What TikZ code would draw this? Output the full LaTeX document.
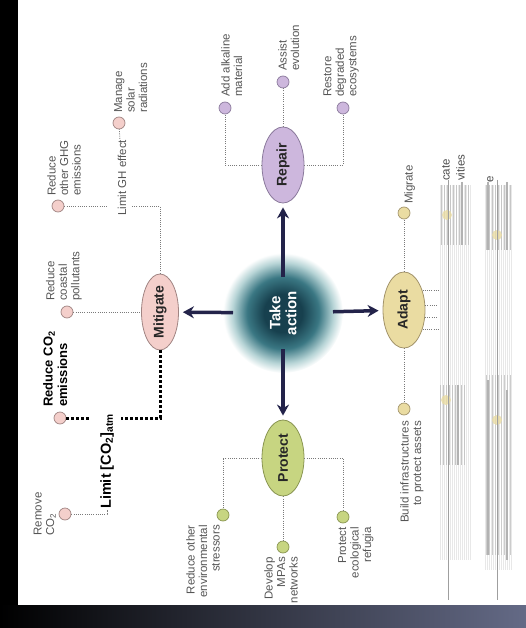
\documentclass[tikz,border=0pt]{standalone}
\usepackage{fontspec}
\setmainfont{Liberation Sans}
\usetikzlibrary{shapes.geometric,arrows.meta}

\definecolor{navy}{HTML}{23234A}
\definecolor{mitfill}{HTML}{F4CFCB}
\definecolor{mitdraw}{HTML}{A08482}
\definecolor{repfill}{HTML}{CDB7DD}
\definecolor{repdraw}{HTML}{8B7A9C}
\definecolor{adafill}{HTML}{EADCA2}
\definecolor{adadraw}{HTML}{A3946B}
\definecolor{profill}{HTML}{C7D581}
\definecolor{prodraw}{HTML}{8A9652}
\definecolor{lbltxt}{HTML}{555555}
\definecolor{dotgray}{HTML}{7A7A7A}
\definecolor{bandblue}{HTML}{646A86}
\definecolor{glowdark}{HTML}{17404E}
\definecolor{glowmid}{HTML}{3A7783}
\definecolor{glowlight}{HTML}{B7D4D6}

\pgfdeclareradialshading{glow}{\pgfpointorigin}{%
  color(0bp)=(glowdark); color(8bp)=(glowdark); color(15bp)=(glowmid);
  color(21bp)=(glowlight); color(25bp)=(white); color(50bp)=(white)}

\tikzset{
  branch/.style={ellipse, draw, line width=0.8pt, minimum width=42pt, minimum height=76pt,
    inner sep=0pt, font=\fontsize{14}{16}\selectfont\bfseries, text=black!85},
  leaf/.style={circle, draw, line width=0.7pt, minimum size=12pt, inner sep=0pt},
  mit/.style={fill=mitfill, draw=mitdraw},
  rep/.style={fill=repfill, draw=repdraw},
  ada/.style={fill=adafill, draw=adadraw},
  pro/.style={fill=profill, draw=prodraw},
  lbl/.style={rotate=90, inner sep=1pt, text=lbltxt, font=\fontsize{11.5}{12.5}\selectfont},
  keylbl/.style={rotate=90, inner sep=1pt, text=black, font=\fontsize{13}{14.5}\selectfont\bfseries},
  dotline/.style={draw=dotgray, line width=0.8pt, dash pattern=on 1pt off 1.2pt},
  co2line/.style={line width=3pt, dash pattern=on 3pt off 2pt},
  bigarrow/.style={navy, line width=3.5pt, -{Stealth[length=11pt,width=12pt]}, shorten >=4pt},
}

\begin{document}
\begin{tikzpicture}[x=1pt, y=-1pt]
  \useasboundingbox (0,0) rectangle (526,628);
  % Frame
  \fill[black] (0,0) rectangle (18,628);
  \shade[left color=black, right color=bandblue] (0,605) rectangle (526,628);

  % Centre
  \node[circle, minimum size=120pt, shade, shading=glow, rotate=90, align=center, text=white,
    font=\fontsize{15}{16}\selectfont\bfseries] (act) at (283,313) {Take\\action};

  % Branches
  \node[branch, mit, minimum width=37pt] (mitig) at (160,312) {\rotatebox{90}{Mitigate}};
  \node[branch, rep] (repair) at (283,165) {\rotatebox{90}{Repair}};
  \node[branch, ada] (adapt) at (404,310) {\rotatebox{90}{Adapt}};
  \node[branch, pro] (protect) at (283,458) {\rotatebox{90}{Protect}};

  % Arrows
  \draw[bigarrow, shorten <=36pt] (act.center) -- (repair);
  \draw[bigarrow, shorten <=36pt] (act.center) -- (protect);
  \draw[bigarrow, shorten <=50pt] (act.center) -- (mitig);
  \draw[bigarrow, shorten <=50pt] (act.center) -- (adapt);

  % Leaf nodes
  \node[leaf, mit] (ghg) at (58,206) {};
  \node[leaf, mit] (solar) at (119,123) {};
  \node[leaf, mit] (coastal) at (67,312) {};
  \node[leaf, mit] (cutco2) at (60,418) {};
  \node[leaf, mit] (remco2) at (65,514) {};
  \node[leaf, rep] (alkaline) at (225,108) {};
  \node[leaf, rep] (assist) at (283,82) {};
  \node[leaf, rep] (restore) at (343,108) {};
  \node[leaf, pro] (stress) at (223,515) {};
  \node[leaf, pro] (mpas) at (283,547) {};
  \node[leaf, pro] (refugia) at (343,517) {};
  \node[leaf, ada] (migrate) at (404,213) {};
  \node[leaf, ada] (infra) at (404,409) {};

  % Labels
  \node[lbl, align=left, anchor=north west] (ghgtxt) at (46,197) {Reduce\\other GHG\\emissions};
  \node[lbl, anchor=west] (limgh) at (122,217) {Limit GH effect};
  \node[lbl, align=left, anchor=north west] (solartxt) at (113,114) {Manage\\solar\\radiations};
  \node[lbl, align=left, anchor=west] (coastaltxt) at (64,302) {Reduce\\coastal\\pollutants};
  \node[keylbl, align=left, anchor=north west] (cutco2txt) at (42,408) {Reduce CO\textsubscript{2}\\emissions};
  \node[keylbl, anchor=west, font=\fontsize{14.5}{16}\selectfont\bfseries] (limco2) at (107,510) {Limit [CO\textsubscript{2}]\textsubscript{atm}};
  \node[lbl, align=left, anchor=south] (remco2txt) at (57,514) {Remove\\CO\textsubscript{2}};
  \node[lbl, align=left, anchor=north west] (alktxt) at (220,98) {Add alkaline\\material};
  \node[lbl, align=left, anchor=north west] (assisttxt) at (277,72) {Assist\\evolution};
  \node[lbl, align=left, anchor=west] (restoretxt) at (341,98) {Restore\\degraded\\ecosystems};
  \node[lbl, align=right, anchor=south east] (stresstxt) at (221,524) {Reduce other\\environmental\\stressors};
  \node[lbl, align=right, anchor=east] (mpastxt) at (281,556) {Develop\\MPAs\\networks};
  \node[lbl, align=right, anchor=north east] (refugiatxt) at (337,526) {Protect\\ecological\\refugia};
  \node[lbl, anchor=north west] (migratetxt) at (403,205) {Migrate};
  \node[lbl, align=right, anchor=north east] (infratxt) at (399,420) {Build infrastructures\\to protect assets};

  % Mitigate links
  \coordinate (ghbend) at (160,206);
  \coordinate (ghright) at (132,206);
  \coordinate (ghleft) at (107,206);
  \draw[dotline] (mitig) -- (ghbend) -- (ghright);
  \draw[dotline] (ghg) -- (ghleft);
  \draw[dotline] (limgh) -- (solar);
  \draw[dotline] (coastal) -- (mitig);
  \coordinate (co2bend) at (160,418);
  \coordinate (co2right) at (121,418);
  \coordinate (co2left) at (90,418);
  \draw[co2line] (mitig) -- (co2bend) -- (co2right);
  \draw[co2line] (cutco2) -- (co2left);
  \coordinate (rembend) at (107,514);
  \draw[dotline] (remco2) -- (rembend) -- (limco2.west);

  % Repair links
  \coordinate (alkbend) at (225,165);
  \coordinate (restbend) at (343,165);
  \draw[dotline] (repair) -- (alkbend) -- (alkaline);
  \draw[dotline] (repair) -- (assist);
  \draw[dotline] (repair) -- (restbend) -- (restore);

  % Protect links
  \coordinate (stressbend) at (223,458);
  \coordinate (refbend) at (343,458);
  \draw[dotline] (protect) -- (stressbend) -- (stress);
  \draw[dotline] (protect) -- (mpas);
  \draw[dotline] (protect) -- (refbend) -- (refugia);

  % Adapt links
  \draw[dotline] (adapt) -- (migrate);
  \draw[dotline] (adapt) -- (infra);
  \coordinate (fray) at (438,310);
  \foreach \a in {46,11,-19,-46}
    \draw[dotline] (adapt.\a) -- (adapt.\a -| fray);

  % Damaged strip
  \foreach \x in {440,442,...,470}
    \draw[gray!18, line width=0.5pt] (\x,185) -- (\x,560);
  \foreach \x in {485,487,...,512}
    \draw[gray!18, line width=0.5pt] (\x,185) -- (\x,570);
  \foreach \x in {441,444,...,468}
    \draw[gray!45, line width=0.7pt] (\x,185) -- (\x,245);
  \foreach \x in {440,443,...,464}
    \draw[gray!45, line width=0.7pt] (\x,385) -- (\x,465);
  \foreach \x in {486,489,...,511}
    \draw[gray!45, line width=0.7pt] (\x,185) -- (\x,250);
  \foreach \x in {486,489,...,511}
    \draw[gray!40, line width=0.7pt] (\x,375) -- (\x,555);
  \fill[adafill, opacity=.8] (447,215) circle (5);
  \fill[adafill, opacity=.8] (446,400) circle (5);
  \fill[adafill, opacity=.8] (497,235) circle (5);
  \fill[adafill, opacity=.8] (497,420) circle (5);
  \foreach \x/\ya/\yb in {448/180/600, 497/180/600}
    \draw[gray!75, line width=0.6pt] (\x,\ya) -- (\x,\yb);
  \foreach \x/\ya/\yb in {462/182/245, 458/385/465, 488/182/250, 507/182/250, 488/380/555, 507/390/560}
    \draw[gray!60, line width=1.6pt] (\x,\ya) -- (\x,\yb);
  \node[lbl, anchor=north west, text=black!70] (frag1) at (441,182) {cate};
  \node[lbl, anchor=north west, text=black!70] (frag2) at (455,182) {vities};
  \node[lbl, anchor=north west, text=black!70] (frag3) at (486,184) {e};
\end{tikzpicture}
\end{document}
